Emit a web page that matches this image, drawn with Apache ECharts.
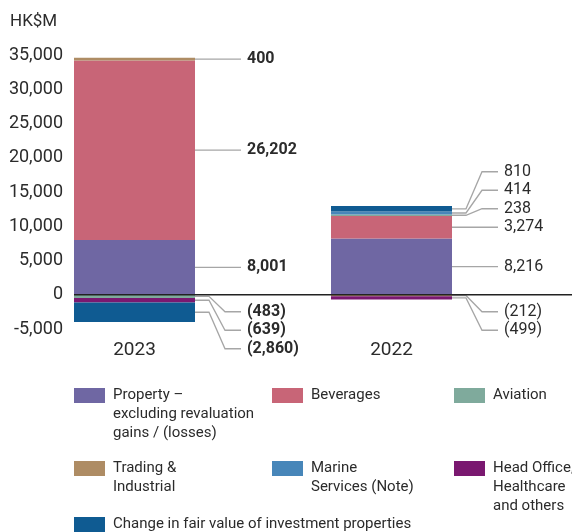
<!DOCTYPE html>
<html>
<head>
<meta charset="utf-8">
<script src="https://cdn.jsdelivr.net/npm/echarts@6/dist/echarts.min.js"></script>
<style>
  html, body { margin: 0; padding: 0; background: #fff; }
  #chart { width: 572px; height: 532px; }
</style>
</head>
<body>
<div id="chart"></div>
<script>
// Profit by division, HK$M
const years = ['2023', '2022'];
const yTicks = [-5000, 0, 5000, 10000, 15000, 20000, 25000, 30000, 35000];

const property   = [8001, 8216];
const beverages  = [26202, 3274];
const aviation   = [-483, 238];
const trading    = [400, -212];
const marine     = [null, 414];
const headOffice = [-639, -499];
const fairValue  = [-2860, 810];

const divisions = [
  { name: 'Property', text: 'Property –\nexcluding revaluation\ngains / (losses)', data: property,   color: '#6f67a3' },
  { name: 'Beverages', text: 'Beverages',                                        data: beverages,  color: '#c86577' },
  { name: 'Aviation', text: 'Aviation',                                          data: aviation,   color: '#7faa9c' },
  { name: 'Trading & Industrial', text: 'Trading &\nIndustrial',                 data: trading,    color: '#ae8c64' },
  { name: 'Marine Services', text: 'Marine\nServices (Note)',                    data: marine,     color: '#4786b9' },
  { name: 'Head Office', text: 'Head Office,\nHealthcare\nand others',           data: headOffice, color: '#7a1870' },
  { name: 'Change in fair value', text: 'Change in fair value of investment properties', data: fairValue, color: '#0f5b92' }
];

const FONT = 'Roboto, "Noto Sans", sans-serif';
const TEXT = '#2b2b2b';
const LEADER = '#a6a6a6';

// legend placement: [left of swatch, top of swatch]
const legendSpots = [[74, 388], [272, 388], [454, 388], [74, 461], [272, 461], [454, 461], [74, 517]];
const LH = 19;

const fmtAxis = v => v.toLocaleString('en-US');
const fmtLabel = v => v < 0 ? '(' + Math.abs(v).toLocaleString('en-US') + ')' : v.toLocaleString('en-US');

const chart = echarts.init(document.getElementById('chart'), null, { renderer: 'canvas' });

// legend text is centred on its swatch, so blank lines are put in front
// to bring the first line level with the swatch
const legends = divisions.map((d, i) => {
  const n = d.text.split('\n').length;
  const H = (2 * n - 1) * LH;
  const shown = '\n'.repeat(n - 1) + d.text;
  return {
    data: [d.name],
    left: legendSpots[i][0],
    top: legendSpots[i][1] + 7.5 - H / 2,
    padding: 0,
    itemWidth: 31,
    itemHeight: 15,
    icon: 'rect',
    selectedMode: false,
    formatter: () => shown,
    textStyle: {
      fontFamily: FONT, fontSize: 15, color: TEXT, lineHeight: LH,
      padding: [0, 0, 0, 3]
    }
  };
});

chart.setOption({
  animation: false,
  backgroundColor: '#fff',
  title: {
    text: 'HK$M', left: 10, top: 13, padding: 0,
    textStyle: { fontFamily: FONT, fontSize: 17, fontWeight: 'normal', color: TEXT }
  },
  legend: legends,
  grid: { left: 6, right: 52, top: 55, bottom: 203 },
  xAxis: {
    type: 'category',
    data: years,
    axisLine: { show: false, onZero: false },
    axisTick: { show: false },
    axisLabel: { fontFamily: FONT, fontSize: 19, color: TEXT, margin: 12 }
  },
  yAxis: {
    type: 'value',
    min: yTicks[0],
    max: yTicks[yTicks.length - 1],
    interval: yTicks[1] - yTicks[0],
    axisLine: { show: false },
    axisTick: { show: false },
    splitLine: { show: false },
    axisLabel: {
      inside: true, margin: 57, align: 'right',
      fontFamily: FONT, fontSize: 18, color: TEXT,
      formatter: fmtAxis
    }
  },
  series: divisions.map(d => ({
    name: d.name,
    type: 'bar',
    stack: 'total',
    barWidth: 121,
    data: d.data,
    itemStyle: { color: d.color },
    emphasis: { disabled: true }
  }))
});

// value labels with leader lines, placed from the bar layout
function drawAnnotations() {
  const model = chart.getModel();
  const zeroY = chart.convertToPixel({ yAxisIndex: 0 }, 0);
  const elements = [];
  let firstLeft = Infinity;

  years.forEach((yr, ci) => {
    const pos = [], neg = [];
    let edge = 0;
    divisions.forEach((d, si) => {
      const v = d.data[ci];
      if (v == null || v === 0) return;
      const lay = model.getSeriesByIndex(si).getData().getItemLayout(ci);
      const top = Math.min(lay.y, lay.y + lay.height);
      const bottom = Math.max(lay.y, lay.y + lay.height);
      edge = lay.x + lay.width;
      firstLeft = Math.min(firstLeft, lay.x);
      const item = { v, mid: (top + bottom) / 2 };
      (v > 0 ? pos : neg).push(item);
    });

    const GAP = 18.5;
    // positives: from the base upward
    let prev = null;
    pos.forEach(it => {
      it.ly = prev == null ? it.mid : Math.min(it.mid, prev - GAP);
      prev = it.ly;
    });
    // negatives: from zero downward, starting below the axis
    prev = null;
    neg.forEach(it => {
      it.ly = prev == null ? Math.max(it.mid, zeroY + 17) : Math.max(it.mid, prev + GAP);
      prev = it.ly;
    });

    const bold = ci === 0;
    pos.concat(neg).forEach(it => {
      const x3 = edge + 46;
      const pts = Math.abs(it.ly - it.mid) < 1.5
        ? [[edge, it.mid], [x3, it.mid]]
        : [[edge, it.mid], [edge + 14, it.mid], [edge + 30, it.ly], [x3, it.ly]];
      if (pts.length === 2) it.ly = it.mid;
      elements.push({
        type: 'polyline', z: 50, silent: true,
        shape: { points: pts },
        style: { stroke: LEADER, lineWidth: 1.3, fill: null }
      });
      elements.push({
        type: 'text', z: 50, silent: true,
        x: edge + 52, y: it.ly,
        style: {
          text: fmtLabel(it.v), fill: TEXT,
          font: (bold ? 'bold ' : '') + '16px ' + FONT,
          verticalAlign: 'middle', align: 'left'
        }
      });
    });
  });

  // zero baseline
  elements.push({
    type: 'line', z: 60, silent: true,
    shape: { x1: firstLeft, y1: zeroY, x2: 572, y2: zeroY },
    style: { stroke: '#222', lineWidth: 1.4 }
  });

  chart.setOption({ graphic: { elements } });
}

drawAnnotations();
</script>
</body>
</html>
